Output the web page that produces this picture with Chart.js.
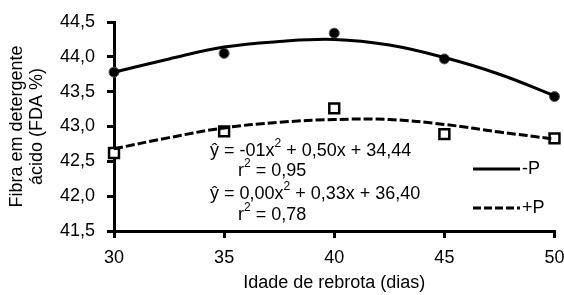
<!DOCTYPE html>
<html lang="pt">
<head>
  <meta charset="UTF-8">
  <title>Fibra em detergente ácido</title>
  <script src="https://cdn.jsdelivr.net/npm/chart.js"></script>
  <style>
    html, body { margin: 0; padding: 0; background: #fff; }
    #wrap { width: 564px; height: 295px; }
  </style>
</head>
<body>
<div id="wrap"><canvas id="fda" width="564" height="295"></canvas></div>
<script>
  // observed values
  const idade = [30, 35, 40, 45, 50];
  const semP = [43.78, 44.05, 44.34, 43.97, 43.43];
  const comP = [42.62, 42.93, 43.26, 42.89, 42.83];
  // fitted curves, every 2.5 days
  const idadeCurva = [30, 32.5, 35, 37.5, 40, 42.5, 45, 47.5, 50];
  const curvaSemP = [43.78, 43.97, 44.14, 44.22, 44.25, 44.17, 43.99, 43.75, 43.44];
  const curvaComP = [42.68, 42.84, 42.98, 43.06, 43.10, 43.10, 43.03, 42.92, 42.82];
  const yTicks = [41.5, 42.0, 42.5, 43.0, 43.5, 44.0, 44.5];
  const xTicks = [30, 35, 40, 45, 50];
  const equacoes = [
    ['ŷ = -01x', '2', ' + 0,50x + 34,44'],
    ['r', '2', ' = 0,95'],
    ['ŷ = 0,00x', '2', ' + 0,33x + 36,40'],
    ['r', '2', ' = 0,78']
  ];
  const legenda = ['-P', '+P'];

  const FONT = '"Liberation Sans", Arial, sans-serif';
  const pts = (xs, ys) => xs.map((x, i) => ({ x: x, y: ys[i] }));

  // equations + legend drawn inside the plot
  const extras = {
    id: 'extras',
    afterDatasetsDraw(chart) {
      const c = chart.ctx;
      c.save();
      c.fillStyle = '#000';
      c.textBaseline = 'middle';
      const lines = [[210, 151], [238, 171], [210, 194], [238, 215]];
      equacoes.forEach((parts, i) => {
        let x = lines[i][0], y = lines[i][1];
        c.font = '18px ' + FONT;
        c.fillText(parts[0], x, y);
        x += c.measureText(parts[0]).width;
        c.font = '12px ' + FONT;
        c.fillText(parts[1], x, y - 7);
        x += c.measureText(parts[1]).width;
        c.font = '18px ' + FONT;
        c.fillText(parts[2], x, y);
      });
      c.lineWidth = 3;
      c.strokeStyle = '#000';
      [[169, []], [208, [8, 3]]].forEach((l, i) => {
        c.setLineDash(l[1]);
        c.beginPath();
        c.moveTo(473, l[0]);
        c.lineTo(520, l[0]);
        c.stroke();
        c.setLineDash([]);
        c.font = '18px ' + FONT;
        c.fillText(legenda[i], 522, l[0]);
      });
      c.restore();
    }
  };

  new Chart(document.getElementById('fda'), {
    type: 'scatter',
    data: {
      datasets: [
        { data: pts(idadeCurva, curvaSemP), showLine: true, tension: 0.4, borderColor: '#000',
          borderWidth: 3, pointRadius: 0 },
        { data: pts(idadeCurva, curvaComP), showLine: true, tension: 0.4, borderColor: '#000',
          borderWidth: 3, borderDash: [9, 3], pointRadius: 0 },
        { data: pts(idade, semP), pointStyle: 'circle', pointRadius: 5, backgroundColor: '#000',
          borderColor: '#555', borderWidth: 1 },
        { data: pts(idade, comP), pointStyle: 'rect', pointRadius: 7, backgroundColor: '#fff',
          borderColor: '#000', borderWidth: 2.5 }
      ]
    },
    options: {
      responsive: false,
      animation: false,
      clip: false,
      layout: { padding: { left: 0, right: 4, top: 22, bottom: 0 } },
      plugins: { legend: { display: false }, tooltip: { enabled: false } },
      scales: {
        x: {
          type: 'linear', min: 30, max: 50,
          afterBuildTicks: s => { s.ticks = xTicks.map(v => ({ value: v })); },
          afterFit: s => { s.height = 64; s.paddingLeft = 0; s.paddingRight = 0; },
          border: { color: '#000', width: 3 },
          grid: { drawOnChartArea: false, drawTicks: true, tickLength: 7, color: '#000', lineWidth: 3 },
          ticks: { color: '#000', font: { family: FONT, size: 18 }, padding: 9, maxRotation: 0 },
          title: { display: true, text: 'Idade de rebrota (dias)', color: '#000',
                   font: { family: FONT, size: 18, lineHeight: 1.1 }, padding: { top: 0, bottom: 2 } }
        },
        y: {
          min: 41.5, max: 44.5,
          afterBuildTicks: s => { s.ticks = yTicks.map(v => ({ value: v })); },
          afterFit: s => { s.width = 114; s.paddingTop = 0; s.paddingBottom = 0; },
          border: { color: '#000', width: 3 },
          grid: { drawOnChartArea: false, drawTicks: true, tickLength: 7, color: '#000', lineWidth: 3 },
          ticks: { color: '#000', font: { family: FONT, size: 18 }, padding: 12,
                   callback: v => v.toFixed(1).replace('.', ',') },
          title: { display: true, text: ['Fibra em detergente', 'ácido (FDA %)'], color: '#000',
                   font: { family: FONT, size: 18, lineHeight: 1.1 }, padding: { top: 7, bottom: 0 } }
        }
      }
    },
    plugins: [extras]
  });
</script>
</body>
</html>
